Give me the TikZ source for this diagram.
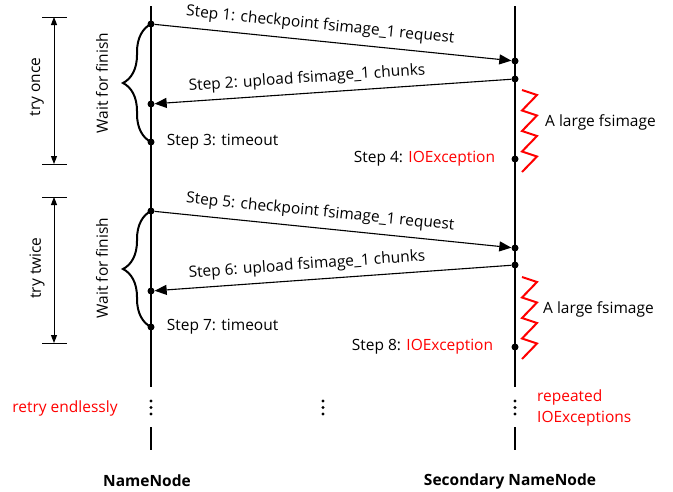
\documentclass[tikz,border=0pt]{standalone}
\usepackage{fontspec}
\setmainfont{Open Sans}
\usetikzlibrary{positioning,calc,arrows.meta,decorations.pathreplacing}

\begin{document}
\begin{tikzpicture}[x=1pt, y=-1pt, every node/.style={font=\fontsize{15.5}{20}\selectfont},
    msgdot/.style={circle, fill, inner sep=0pt, minimum size=7pt},
    lifeline/.style={line width=2pt},
    msg/.style={-{Triangle[length=12pt,width=10pt]}, line width=1.1pt},
    span/.style={{Triangle[length=8pt,width=6pt]}-{Triangle[length=8pt,width=6pt]}, line width=1pt},
    zigzag/.style={red, line width=2pt, line join=miter},
    waitbrace/.style={decorate, decoration={brace, amplitude=28pt}, line width=2pt},
    steplabel/.style={inner sep=0pt},
    errlabel/.style={inner sep=0pt, text=red} ]

    \useasboundingbox (0,0) rectangle (673,491);

    % lifelines
    \coordinate (nn top) at (151,6);
    \coordinate (nn cut) at (151,387);
    \coordinate (nn go) at (151,427);
    \coordinate (nn bot) at (151,450);
    \coordinate (sn top) at (515,6);
    \coordinate (sn cut) at (515,387);
    \coordinate (sn go) at (515,427);
    \coordinate (sn bot) at (515,450);

    \draw[lifeline] (nn top) -- (nn cut);
    \draw[lifeline] (nn go) -- (nn bot);
    \draw[lifeline] (sn top) -- (sn cut);
    \draw[lifeline] (sn go) -- (sn bot);

    \foreach \x in {151,323,515}
        \foreach \y in {401,407.5,414}
            \fill (\x,\y) circle (1.7);

    \node[font=\fontsize{15.5}{20}\selectfont\bfseries] (nn) at (147,481) {NameNode};
    \node[font=\fontsize{15.5}{20}\selectfont\bfseries] (sn) at (510,481) {Secondary NameNode};

    % first try
    \node[msgdot] (s1) at (151,24) {};
    \node[msgdot] (r1) at (515,61) {};
    \node[msgdot] (u2) at (515,79) {};
    \node[msgdot] (d2) at (151,104) {};
    \node[msgdot] (t3) at (151,142) {};
    \node[msgdot] (e4) at (515,159) {};

    \draw[msg] (s1) -- node[pos=0.46, sloped, above=4pt] {Step 1: checkpoint fsimage\_1 request} (r1);
    \draw[msg] (u2) -- node[pos=0.57, sloped, above=3pt] {Step 2: upload fsimage\_1 chunks} (d2);

    \node[steplabel, right=12pt of t3] (l3) {Step 3: timeout};
    \node[steplabel, left=16pt of e4] (l4) {Step 4: \textcolor{red}{IOException}};

    \draw[waitbrace] (t3.center) -- (s1.center);
    \node[rotate=90] (wait1) at (102,83) {Wait for finish};

    \coordinate (z1) at (522,90);
    \draw[zigzag] (z1) \foreach \i in {1,...,4} { -- ++(15,5) -- ++(-15,15.5) };
    \node[anchor=west, inner sep=0pt] (big1) at (545,122) {A large fsimage};

    \coordinate (once top) at (54,17);
    \coordinate (once bot) at (54,164);
    \draw[line width=1pt] ($(once top)+(-12,0)$) -- ++(25,0);
    \draw[line width=1pt] ($(once bot)+(-12,0)$) -- ++(25,0);
    \draw[span] (once top) -- (once bot);
    \node[rotate=90] (once) at (37,87) {try once};

    % second try
    \node[msgdot] (s5) at (151,211) {};
    \node[msgdot] (r5) at (515,248) {};
    \node[msgdot] (u6) at (515,265) {};
    \node[msgdot] (d6) at (151,291) {};
    \node[msgdot] (t7) at (151,327) {};
    \node[msgdot] (e8) at (515,347) {};

    \draw[msg] (s5) -- node[pos=0.46, sloped, above=4pt] {Step 5: checkpoint fsimage\_1 request} (r5);
    \draw[msg] (u6) -- node[pos=0.57, sloped, above=3pt] {Step 6: upload fsimage\_1 chunks} (d6);

    \node[steplabel, right=12pt of t7] (l7) {Step 7: timeout};
    \node[steplabel, left=18pt of e8] (l8) {Step 8: \textcolor{red}{IOException}};

    \draw[waitbrace] (t7.center) -- (s5.center);
    \node[rotate=90] (wait2) at (102,268) {Wait for finish};

    \coordinate (z2) at (522,277);
    \draw[zigzag] (z2) \foreach \i in {1,...,4} { -- ++(15,5) -- ++(-15,15.5) };
    \node[anchor=west, inner sep=0pt] (big2) at (543,309) {A large fsimage};

    \coordinate (twice top) at (54,197);
    \coordinate (twice bot) at (54,343);
    \draw[line width=1pt] ($(twice top)+(-12,0)$) -- ++(25,0);
    \draw[line width=1pt] ($(twice bot)+(-12,0)$) -- ++(25,0);
    \draw[span] (twice top) -- (twice bot);
    \node[rotate=90] (twice) at (37,268) {try twice};

    % endless retries
    \node[errlabel] (retry) at (65,408) {retry endlessly};
    \node[errlabel, anchor=west, align=left, font=\fontsize{15.5}{21}\selectfont] (repeat) at (537,408) {repeated\\IOExceptions};

\end{tikzpicture}
\end{document}
